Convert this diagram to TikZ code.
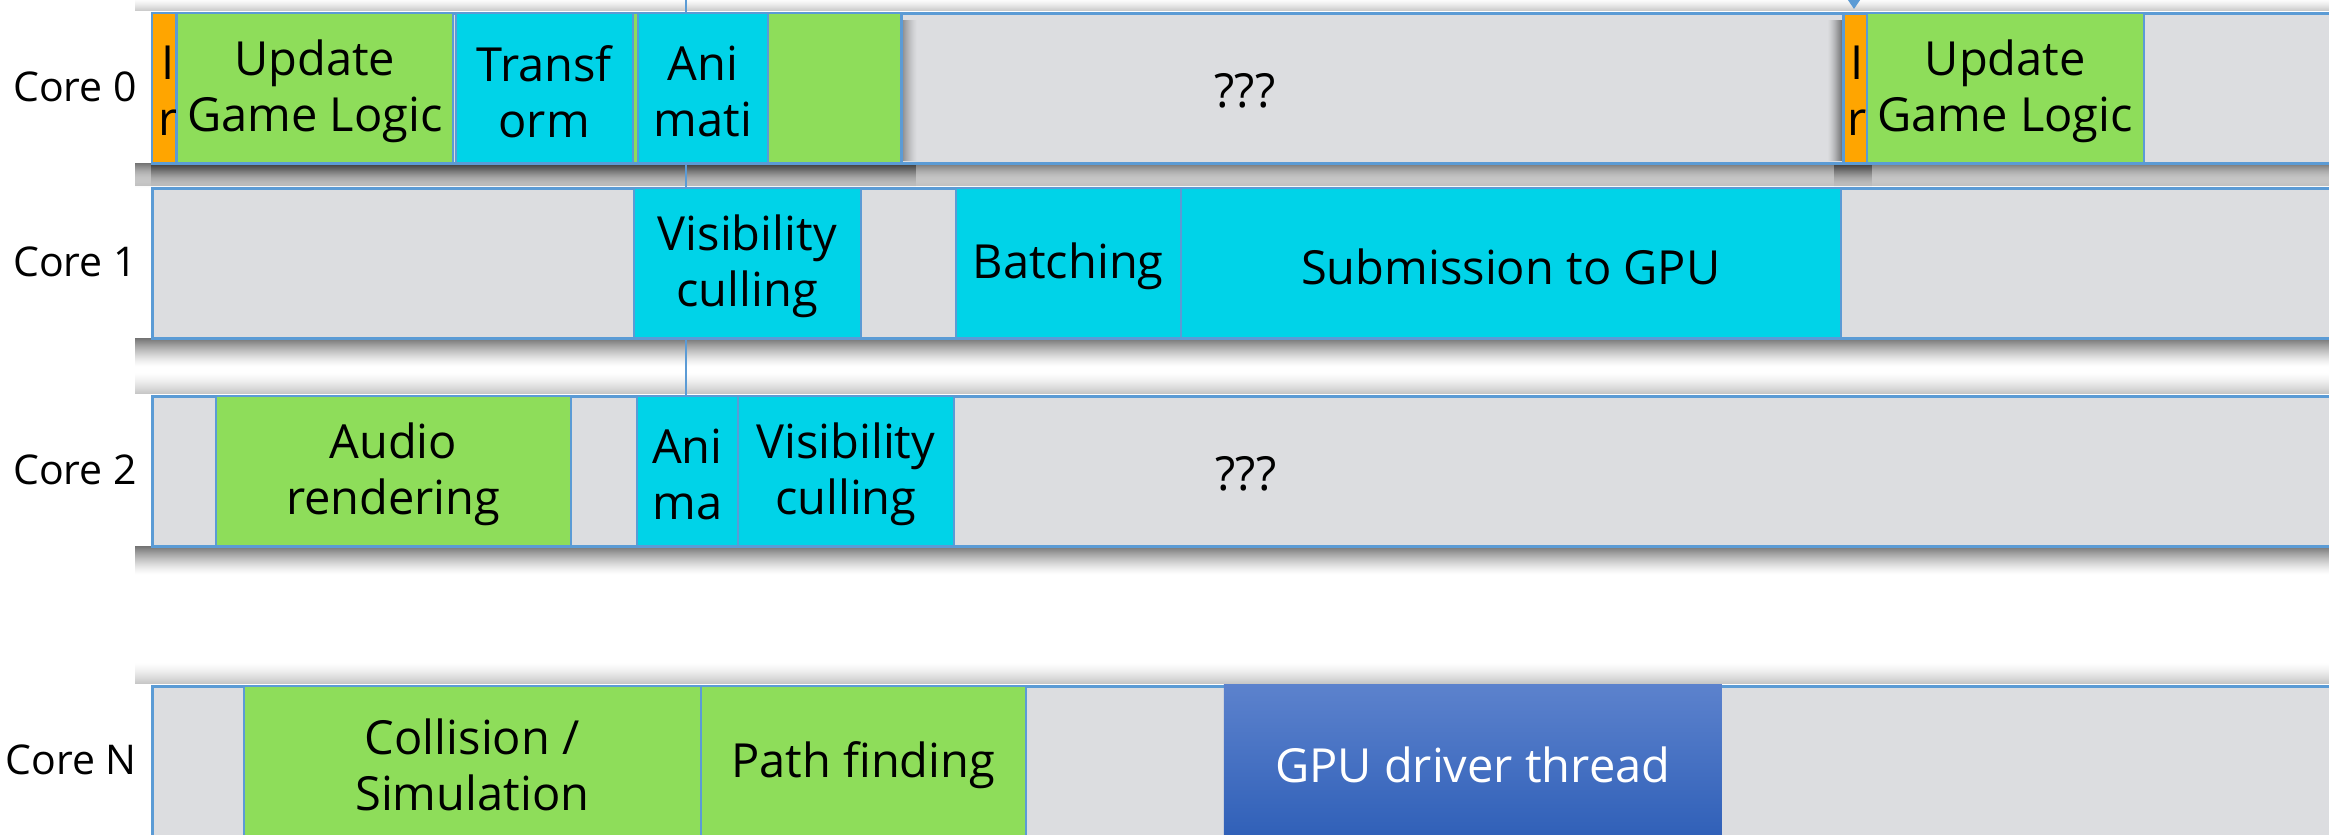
\documentclass[tikz,border=0pt]{standalone}
\usepackage{fontspec}
\setmainfont{Open Sans}
\usetikzlibrary{arrows.meta}
\definecolor{barfill}{RGB}{220,221,224}
\definecolor{bordc}{RGB}{91,155,213}
\definecolor{segG}{RGB}{142,221,90}
\definecolor{segC}{RGB}{0,211,232}
\definecolor{segO}{RGB}{255,165,0}
\definecolor{gpuT}{RGB}{92,130,205}
\definecolor{gpuB}{RGB}{48,96,184}
% soft shadow bands made of thin stripes
% #1 x1, #2 x2, #3 y start, #4 steps, #5 direction (1 down, -1 up), #6 opacity at start
\newcommand\myVBand[6]{%
  \foreach \i in {0,...,#4}{%
    \pgfmathsetmacro\myop{#6*(1-\i/(#4+1))^1.4}%
    \fill[black, fill opacity=\myop] (#1,{#3+(#5)*\i}) rectangle (#2,{#3+(#5)*(\i+1.3)});}}
% #1 y1, #2 y2, #3 x start, #4 steps, #5 direction (1 right, -1 left), #6 opacity at start
\newcommand\myHBand[6]{%
  \foreach \i in {0,...,#4}{%
    \pgfmathsetmacro\myop{#6*(1-\i/(#4+1))^1.4}%
    \fill[black, fill opacity=\myop] ({#3+(#5)*\i},#1) rectangle ({#3+(#5)*(\i+1.3)},#2);}}
\begin{document}
\begin{tikzpicture}[x=1pt,y=-1pt,
  bar/.style={draw=bordc, line width=3pt, fill=barfill, anchor=north west,
    minimum height=150pt, minimum width=2400pt, inner sep=0pt},
  grp/.style={draw=bordc, line width=3pt, fill=barfill, anchor=north west,
    minimum height=150pt, inner sep=0pt},
  seg/.style={draw=bordc, line width=1.5pt, anchor=north west, inner sep=0pt,
    minimum height=150pt},
  txt/.style={align=center, inner sep=0pt, yshift=-4pt, font=\fontsize{47}{56}\selectfont},
  lbl/.style={anchor=east, inner sep=0pt, font=\fontsize{41}{48}\selectfont},
  vline/.style={draw=bordc, line width=2pt}
]
\useasboundingbox (0,0) rectangle (2329,835);
\fill[white] (0,0) rectangle (2329,835);
\clip (0,0) rectangle (2329,835);

% soft shadows round the bars
\myVBand{135}{2329}{11}{11}{-1}{0.2}
\myVBand{135}{2329}{163}{24}{1}{0.55}
\myVBand{135}{2329}{186}{14}{-1}{0.22}
\myVBand{135}{2329}{338}{28}{1}{0.55}
\myVBand{135}{2329}{394}{20}{-1}{0.22}
\myVBand{135}{2329}{546}{28}{1}{0.55}
\myVBand{135}{2329}{684}{20}{-1}{0.22}
\myVBand{151}{916}{163}{24}{1}{0.5}
\myVBand{1834}{1872}{163}{24}{1}{0.5}

% guide line and arrow (behind bars)
\coordinate (vtop) at (686,-5);
\coordinate (vbot) at (686,395);
\draw[vline] (vtop) -- (vbot);
\coordinate (atop) at (1854,-40);
\coordinate (atip) at (1854,9);
\draw[vline, -{Triangle[width=13pt,length=10pt]}, fill=bordc] (atop) -- (atip);

% bars
\node[bar] (bar0) at (151,12) {};
\node[bar] (bar1) at (151,187) {};
\node[bar] (bar2) at (151,395) {};
\node[bar] (barN) at (151,685) {};

% shadows on the Core 0 bar
\myHBand{20}{161}{901}{15}{1}{0.4}
\myHBand{20}{161}{1842}{13}{-1}{0.45}

% Core 0
\node[grp, minimum width=749pt] (grp0) at (151,12) {};
\node[seg, fill=segO, minimum width=24pt] (o1) at (151,12) {};
\node[txt] (o1t) at (168,87) {I\\r};
\node[seg, fill=segG, minimum width=276pt, label={[txt]center:{Update\\Game Logic}}] (g1) at (176,12) {};
\node[seg, fill=segC, minimum width=177pt, label={[txt]center:{Transf\\orm}}] (c1) at (455,12) {};
\node[seg, fill=segG, minimum width=5pt] (s1) at (632,12) {};
\node[seg, fill=segC, minimum width=130pt, label={[txt]center:{Ani\\mati}}] (c2) at (637,12) {};
\node[seg, fill=segG, minimum width=133pt] (g2) at (767,12) {};
\node[txt] (q0) at (1245,87) {???};
\node[grp, minimum width=24pt, fill=segO] (o2) at (1842,12) {};
\node[txt] (o2t) at (1857,87) {I\\r};
\node[seg, fill=segG, minimum width=277pt, label={[txt]center:{Update\\Game Logic}}] (g3) at (1866,12) {};

% Core 1
\node[seg, fill=segC, minimum width=227pt, label={[txt]center:{Visibility\\culling}}] (c11) at (633,187) {};
\node[seg, fill=segC, minimum width=225pt, label={[txt]center:{Batching}}] (c12) at (955,187) {};
\node[seg, fill=segC, minimum width=660pt, label={[txt]center:{Submission to GPU}}] (c13) at (1180,187) {};

% Core 2
\node[seg, fill=segG, minimum width=355pt, label={[txt]center:{Audio\\rendering}}] (g21) at (215,395) {};
\node[seg, fill=segC, minimum width=101pt, label={[txt]center:{Ani\\ma}}] (c21) at (636,395) {};
\node[seg, fill=segC, minimum width=216pt, label={[txt]center:{Visibility\\culling}}] (c22) at (737,395) {};
\node[txt] (q2) at (1246,470) {???};

% Core N
\node[seg, fill=segG, minimum width=457pt, label={[txt]center:{Collision /\\Simulation}}] (gN1) at (243,685) {};
\node[seg, fill=segG, minimum width=325pt, label={[txt]center:{Path finding}}] (gN2) at (700,685) {};
\node[txt] (qN) at (1258,760) {???};
\node[seg, draw=none, top color=gpuT, bottom color=gpuB, minimum width=498pt,
      minimum height=152pt, label={[txt, text=white]center:{GPU driver thread}}] (gpu) at (1223,684) {};

% labels
\node[lbl] (l0) at (137,87) {Core 0};
\node[lbl] (l1) at (137,262) {Core 1};
\node[lbl] (l2) at (137,470) {Core 2};
\node[lbl] (lN) at (137,760) {Core N};
\end{tikzpicture}
\end{document}
